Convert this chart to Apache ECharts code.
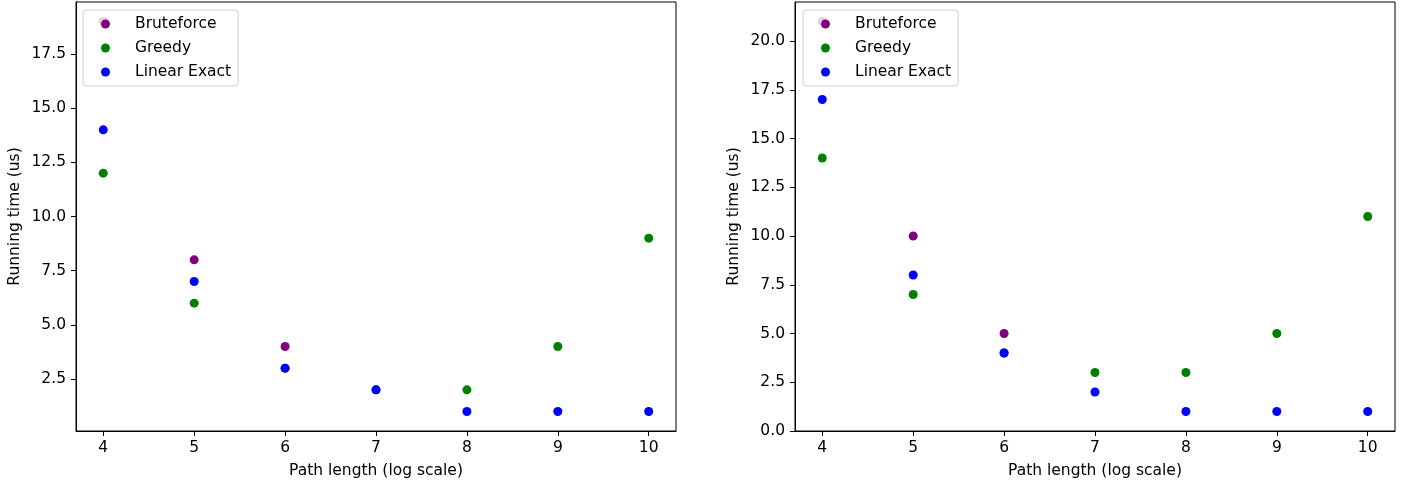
<!DOCTYPE html>
<html>
<head>
<meta charset="utf-8">
<script src="https://cdn.jsdelivr.net/npm/echarts@6/dist/echarts.min.js"></script>
<style>
  html, body { margin: 0; padding: 0; background: #fff; }
  #chart { width: 1411px; height: 487px; }
</style>
</head>
<body>
<div id="chart"></div>
<script>
// path lengths on the x axis
var pathLengths = [4, 5, 6, 7, 8, 9, 10];

// left chart (running time, us)
var bruteLeft = [19, 8, 4];
var greedyLeft = [12, 6, 3, 2, 2, 4, 9];
var linearLeft = [14, 7, 3, 2, 1, 1, 1];

// right chart
var bruteRight = [21, 10, 5];
var greedyRight = [14, 7, 4, 3, 3, 5, 11];
var linearRight = [17, 8, 4, 2, 1, 1, 1];

var yTicksLeft = [2.5, 5, 7.5, 10, 12.5, 15, 17.5];
var yTicksRight = [0, 2.5, 5, 7.5, 10, 12.5, 15, 17.5, 20];

var seriesNames = ['Bruteforce', 'Greedy', 'Linear Exact'];
var colors = ['#800080', '#008000', '#0000ff'];

var FONT = 'DejaVu Sans';
var FS = 15.5;

function pairs(vals) {
  return vals.map(function (v, i) { return [pathLengths[i], v]; });
}

function xAxis(idx) {
  return {
    type: 'value', gridIndex: idx, min: 3.7, max: 10.3,
    name: 'Path length (log scale)', nameLocation: 'middle', nameGap: 32,
    nameTextStyle: { fontFamily: FONT, fontSize: FS, color: '#000' },
    splitLine: { show: false },
    axisLine: { lineStyle: { color: '#000', width: 1 } },
    axisTick: { length: 5, lineStyle: { color: '#000' }, customValues: pathLengths },
    axisLabel: { fontFamily: FONT, fontSize: FS, color: '#000', margin: 9,
      customValues: pathLengths, formatter: function (v) { return String(v); } }
  };
}

function yAxis(idx, min, max, ticks) {
  return {
    type: 'value', gridIndex: idx, min: min, max: max,
    name: 'Running time (us)', nameLocation: 'middle', nameGap: 53, nameRotate: 90,
    nameTextStyle: { fontFamily: FONT, fontSize: FS, color: '#000' },
    splitLine: { show: false },
    axisLine: { show: true, lineStyle: { color: '#000', width: 1 } },
    axisTick: { show: true, length: 5, lineStyle: { color: '#000' }, customValues: ticks },
    axisLabel: { fontFamily: FONT, fontSize: FS, color: '#000', margin: 10,
      customValues: ticks, formatter: function (v) { return v.toFixed(1); } }
  };
}

function legend(left) {
  return {
    left: left, top: 10, orient: 'vertical',
    data: seriesNames, icon: 'circle',
    itemWidth: 9, itemHeight: 9, itemGap: 8,
    padding: [6, 7, 6, 18],
    backgroundColor: 'rgba(255,255,255,0.8)',
    borderColor: '#cccccc', borderWidth: 1, borderRadius: 3,
    textStyle: { fontFamily: FONT, fontSize: FS, color: '#000', lineHeight: 16, padding: [0, 0, 0, 20] }
  };
}

function scatter(name, color, vals, idx) {
  return {
    name: name, type: 'scatter', xAxisIndex: idx, yAxisIndex: idx,
    symbolSize: 9, itemStyle: { color: color, opacity: 1 },
    data: pairs(vals)
  };
}

var chart = echarts.init(document.getElementById('chart'));
chart.setOption({
  animation: false,
  backgroundColor: '#fff',
  grid: [
    { left: 76, right: 735, top: 2, bottom: 56, show: true, borderColor: '#000', borderWidth: 1, backgroundColor: 'transparent' },
    { left: 795, right: 16, top: 2, bottom: 56, show: true, borderColor: '#000', borderWidth: 1, backgroundColor: 'transparent' }
  ],
  xAxis: [xAxis(0), xAxis(1)],
  yAxis: [yAxis(0, 0.1, 19.9, yTicksLeft), yAxis(1, 0, 22, yTicksRight)],
  legend: [legend(83), legend(803)],
  series: [
    scatter(seriesNames[0], colors[0], bruteLeft, 0),
    scatter(seriesNames[1], colors[1], greedyLeft, 0),
    scatter(seriesNames[2], colors[2], linearLeft, 0),
    scatter(seriesNames[0], colors[0], bruteRight, 1),
    scatter(seriesNames[1], colors[1], greedyRight, 1),
    scatter(seriesNames[2], colors[2], linearRight, 1)
  ]
});
</script>
</body>
</html>
